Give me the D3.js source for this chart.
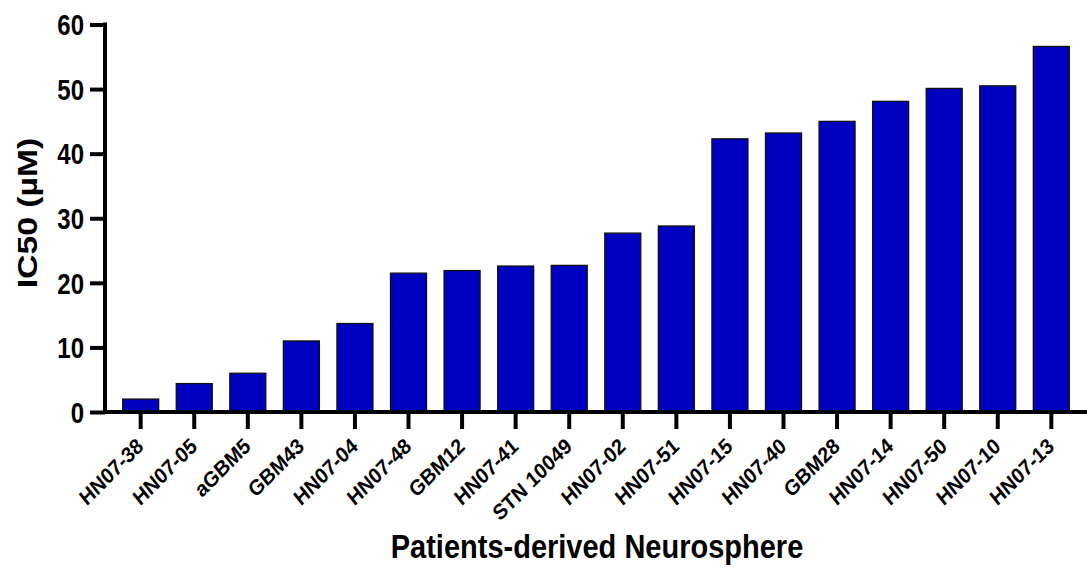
<!DOCTYPE html>
<html>
<head>
<meta charset="utf-8">
<script src="https://cdn.jsdelivr.net/npm/d3@7"></script>
<style>
  html, body { margin: 0; padding: 0; background: #fff; }
  svg text { font-family: "Liberation Sans", Arial, sans-serif; font-weight: bold; fill: #000; }
</style>
</head>
<body>
<svg id="chart" width="1087" height="577"></svg>
<script>
// Cell lines, ordered by increasing IC50
const categories = ["HN07-38", "HN07-05", "aGBM5", "GBM43", "HN07-04", "HN07-48", "GBM12",
  "HN07-41", "STN 10049", "HN07-02", "HN07-51", "HN07-15", "HN07-40", "GBM28",
  "HN07-14", "HN07-50", "HN07-10", "HN07-13"];
// IC50 values (µM)
const ic50 = [2.0, 4.4, 6.0, 11.0, 13.7, 21.5, 21.9, 22.6, 22.7, 27.7, 28.8, 42.3, 43.2,
  45.0, 48.1, 50.1, 50.5, 56.6];
const yTicks = [0, 10, 20, 30, 40, 50, 60];
const xTitle = "Patients-derived Neurosphere";
const yTitle = "IC50 (µM)";

const svg = d3.select("#chart");

const x = d3.scaleBand()
  .domain(categories)
  .range([105, 1087])
  .paddingInner(0.328)
  .paddingOuter(0.33);

const y = d3.scaleLinear()
  .domain([0, 60])
  .range([412, 24.5]);

// Bars
svg.append("g")
  .selectAll("rect")
  .data(categories)
  .join("rect")
  .attr("x", d => x(d))
  .attr("width", x.bandwidth())
  .attr("y", (d, i) => y(ic50[i]))
  .attr("height", (d, i) => y(0) - y(ic50[i]))
  .attr("fill", "#0000c0")
  .attr("stroke", "#111")
  .attr("stroke-width", 1.3);

// Y axis
const yAxis = svg.append("g")
  .attr("transform", "translate(105,0)")
  .call(d3.axisLeft(y).tickValues(yTicks).tickSize(15).tickPadding(6).tickSizeOuter(0));
yAxis.select(".domain").attr("stroke", "#000").attr("stroke-width", 4)
  .attr("d", `M0,${y(60) - 2}V${y(0) + 2}`);
yAxis.selectAll(".tick line").attr("stroke", "#000").attr("stroke-width", 4);
yAxis.selectAll(".tick text")
  .style("font-size", "24px")
  .attr("dy", "0.35em")
  .attr("transform", "scale(1,1.22)");

// X axis
const xAxis = svg.append("g")
  .attr("transform", `translate(0,${y(0)})`)
  .call(d3.axisBottom(x).tickSize(17).tickSizeOuter(0));
xAxis.select(".domain").attr("stroke", "#000").attr("stroke-width", 4)
  .attr("d", "M103,0H1087");
xAxis.selectAll(".tick line").attr("stroke", "#000").attr("stroke-width", 4);
xAxis.selectAll(".tick text")
  .style("font-size", "19.5px")
  .attr("text-anchor", "end")
  .attr("dy", null)
  .attr("y", 0)
  .attr("transform", "translate(4,36) scale(1,1.12) rotate(-42)");

// Axis titles
svg.append("text")
  .attr("transform", "translate(597,558) scale(1,1.15)")
  .attr("text-anchor", "middle")
  .style("font-size", "29px")
  .text(xTitle);

svg.append("text")
  .attr("transform", "translate(37,213) rotate(-90) scale(1.25,1)")
  .attr("text-anchor", "middle")
  .style("font-size", "27px")
  .text(yTitle);
</script>
</body>
</html>
